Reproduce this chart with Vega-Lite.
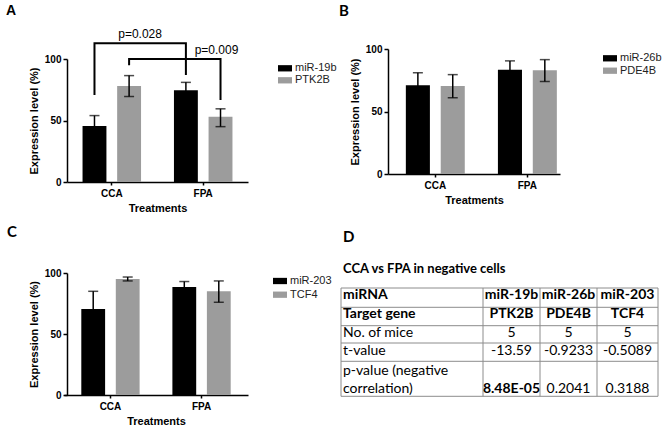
{
  "$schema": "https://vega.github.io/schema/vega-lite/v6.json",
  "autosize": {"type": "none"},
  "padding": {"left": 67, "top": 59, "right": 604, "bottom": 371},
  "background": "white",
  "config": {
    "view": {"stroke": null},
    "font": "Liberation Sans",
    "axis": {"labelFont": "Liberation Sans", "labelFontSize": 10, "labelFontWeight": "bold", "labelColor": "#000", "titleFont": "Liberation Sans", "titleFontSize": 11, "titleFontWeight": "bold", "titleColor": "#000", "domainColor": "#000", "domainWidth": 1.5, "tickColor": "#000", "tickWidth": 1.5, "grid": false},
    "axisX": {"labelAngle": 0, "tickSize": 3, "labelPadding": 3, "titlePadding": 4},
    "axisY": {"tickSize": 4, "labelPadding": 2, "titlePadding": 5},
    "legend": {"title": null, "orient": "none", "symbolType": "M-1,-0.45H1V0.45H-1Z", "symbolSize": 196, "symbolStrokeWidth": 0, "symbolOpacity": 1, "labelFont": "Liberation Sans", "labelFontSize": 11, "labelColor": "#222", "labelOffset": 3},
    "title": {"anchor": "start", "frame": "group", "color": "#000", "fontWeight": "bold"}
  },
  "datasets": {
    "barsA": [
      {"trt": "CCA", "gene": "miR-19b", "v": 45.5, "lo": 37, "hi": 54},
      {"trt": "CCA", "gene": "PTK2B", "v": 78, "lo": 69.5, "hi": 86.5},
      {"trt": "FPA", "gene": "miR-19b", "v": 74.5, "lo": 68, "hi": 81},
      {"trt": "FPA", "gene": "PTK2B", "v": 53, "lo": 45, "hi": 59.5}
    ],
    "barsB": [
      {"trt": "CCA", "gene": "miR-26b", "v": 71, "lo": 61, "hi": 81},
      {"trt": "CCA", "gene": "PDE4B", "v": 70.5, "lo": 61, "hi": 79.5},
      {"trt": "FPA", "gene": "miR-26b", "v": 83.5, "lo": 76.5, "hi": 90.5},
      {"trt": "FPA", "gene": "PDE4B", "v": 83, "lo": 74, "hi": 91.5}
    ],
    "barsC": [
      {"trt": "CCA", "gene": "miR-203", "v": 70.5, "lo": 56.5, "hi": 85},
      {"trt": "CCA", "gene": "TCF4", "v": 95, "lo": 93.5, "hi": 96.7},
      {"trt": "FPA", "gene": "miR-203", "v": 88.5, "lo": 84, "hi": 93},
      {"trt": "FPA", "gene": "TCF4", "v": 85, "lo": 76, "hi": 93.5}
    ],
    "bracketsA": [
      {"b": 1, "o": 1, "trt": "CCA", "gene": "miR-19b", "y": 70.7},
      {"b": 1, "o": 2, "trt": "CCA", "gene": "miR-19b", "y": 112.8},
      {"b": 1, "o": 3, "trt": "FPA", "gene": "miR-19b", "y": 112.8},
      {"b": 1, "o": 4, "trt": "FPA", "gene": "miR-19b", "y": 87},
      {"b": 2, "o": 1, "trt": "CCA", "gene": "PTK2B", "y": 95},
      {"b": 2, "o": 2, "trt": "CCA", "gene": "PTK2B", "y": 100},
      {"b": 2, "o": 3, "trt": "FPA", "gene": "PTK2B", "y": 100},
      {"b": 2, "o": 4, "trt": "FPA", "gene": "PTK2B", "y": 66.7}
    ],
    "table": [
      {"r": 0, "c": 0, "t": "miRNA"}, {"r": 0, "c": 1, "t": "miR-19b"}, {"r": 0, "c": 2, "t": "miR-26b"}, {"r": 0, "c": 3, "t": "miR-203"},
      {"r": 1, "c": 0, "t": "Target gene"}, {"r": 1, "c": 1, "t": "PTK2B"}, {"r": 1, "c": 2, "t": "PDE4B"}, {"r": 1, "c": 3, "t": "TCF4"},
      {"r": 2, "c": 0, "t": "No. of mice"}, {"r": 2, "c": 1, "t": "5"}, {"r": 2, "c": 2, "t": "5"}, {"r": 2, "c": 3, "t": "5"},
      {"r": 3, "c": 0, "t": "t-value"}, {"r": 3, "c": 1, "t": "-13.59"}, {"r": 3, "c": 2, "t": "-0.9233"}, {"r": 3, "c": 3, "t": "-0.5089"},
      {"r": 4, "c": 0, "t": "p-value (negative"},
      {"r": 5, "c": 0, "t": "correlation)"}, {"r": 5, "c": 1, "t": "8.48E-05"}, {"r": 5, "c": 2, "t": "0.2041"}, {"r": 5, "c": 3, "t": "0.3188"}
    ],
    "colLines": [{"k": -0.5}, {"k": 0.5}, {"k": 1.5}, {"k": 2.5}, {"k": 3.5}],
    "rowLines": [{"k": -0.5}, {"k": 0.5}, {"k": 1.5}, {"k": 2.5}, {"k": 3.5}, {"k": 5.5}]
  },
  "columns": 2,
  "spacing": {"row": 91, "column": 140},
  "bounds": "flush",
  "align": "each",
  "resolve": {"scale": {"color": "independent", "xOffset": "independent", "x": "independent", "y": "independent"}},
  "concat": [
    {
      "width": 181, "height": 123,
      "title": {"text": "A", "dx": -61, "offset": 10, "font": "Liberation Sans", "fontSize": 14},
      "encoding": {
        "x": {"field": "trt", "type": "nominal", "title": "Treatments", "scale": {"paddingInner": 0.36, "paddingOuter": 0.17}},
        "xOffset": {"field": "gene", "type": "nominal", "sort": ["miR-19b", "PTK2B"], "scale": {"paddingInner": 0.31, "paddingOuter": 0}}
      },
      "layer": [
        {"data": {"name": "barsA"}, "mark": {"type": "bar"},
         "encoding": {
           "y": {"field": "v", "type": "quantitative", "title": "Expression level (%)", "scale": {"domain": [0, 100], "nice": false}, "axis": {"values": [0, 50, 100]}},
           "color": {"field": "gene", "type": "nominal", "sort": ["miR-19b", "PTK2B"], "scale": {"range": ["#000000", "#9c9c9c"]}, "legend": {"legendX": 211, "legendY": 2.3, "rowPadding": -1.3}}
         }},
        {"data": {"name": "barsA"}, "mark": {"type": "rule", "color": "#000", "strokeWidth": 1.5},
         "encoding": {"y": {"field": "lo", "type": "quantitative", "title": "Expression level (%)"}, "y2": {"field": "hi"}}},
        {"data": {"name": "barsA"}, "mark": {"type": "tick", "color": "#000", "thickness": 1.5, "size": 10},
         "encoding": {"y": {"field": "hi", "type": "quantitative", "title": "Expression level (%)"}}},
        {"data": {"name": "barsA"}, "mark": {"type": "tick", "color": "#000", "thickness": 1.5, "size": 10},
         "encoding": {"y": {"field": "lo", "type": "quantitative", "title": "Expression level (%)"}}},
        {"data": {"name": "bracketsA"}, "mark": {"type": "line", "color": "#000", "strokeWidth": 2},
         "encoding": {"y": {"field": "y", "type": "quantitative", "title": "Expression level (%)"}, "detail": {"field": "b"}, "order": {"field": "o"}}},
        {"data": {"values": [{"t": "p=0.028", "trt": "CCA", "gene": "PTK2B", "y": 112.8}]}, "mark": {"type": "text", "font": "Liberation Sans", "fontSize": 12, "color": "#000", "dx": 11, "dy": -5, "baseline": "alphabetic"},
         "encoding": {"y": {"field": "y", "type": "quantitative", "title": "Expression level (%)"}, "text": {"field": "t"}}},
        {"data": {"values": [{"t": "p=0.009", "trt": "FPA", "gene": "PTK2B", "y": 100}]}, "mark": {"type": "text", "font": "Liberation Sans", "fontSize": 12, "color": "#000", "dx": -4, "dy": -5, "baseline": "alphabetic"},
         "encoding": {"y": {"field": "y", "type": "quantitative", "title": "Expression level (%)"}, "text": {"field": "t"}}}
      ]
    },
    {
      "width": 172, "height": 115,
      "title": {"text": "B", "dx": -49, "offset": 25.5, "font": "Lato", "fontSize": 15},
      "data": {"name": "barsB"},
      "encoding": {
        "x": {"field": "trt", "type": "nominal", "title": "Treatments", "scale": {"paddingInner": 0.36, "paddingOuter": 0.114, "align": 0.85}},
        "xOffset": {"field": "gene", "type": "nominal", "sort": ["miR-26b", "PDE4B"], "scale": {"paddingInner": 0.31, "paddingOuter": 0}}
      },
      "layer": [
        {"mark": {"type": "bar"},
         "encoding": {
           "y": {"field": "v", "type": "quantitative", "title": "Expression level (%)", "scale": {"domain": [0, 100], "nice": false, "range": [115, -10]}, "axis": {"values": [0, 50, 100]}},
           "color": {"field": "gene", "type": "nominal", "sort": ["miR-26b", "PDE4B"], "scale": {"range": ["#000000", "#9c9c9c"]}, "legend": {"legendX": 215, "legendY": -7.7, "rowPadding": 0.4}}
         }},
        {"mark": {"type": "rule", "color": "#000", "strokeWidth": 1.5},
         "encoding": {"y": {"field": "lo", "type": "quantitative", "title": "Expression level (%)"}, "y2": {"field": "hi"}}},
        {"mark": {"type": "tick", "color": "#000", "thickness": 1.5, "size": 10},
         "encoding": {"y": {"field": "hi", "type": "quantitative", "title": "Expression level (%)"}}},
        {"mark": {"type": "tick", "color": "#000", "thickness": 1.5, "size": 10},
         "encoding": {"y": {"field": "lo", "type": "quantitative", "title": "Expression level (%)"}}}
      ]
    },
    {
      "width": 181, "height": 122,
      "title": {"text": "C", "dx": -60, "offset": 28, "font": "Lato", "fontSize": 15},
      "data": {"name": "barsC"},
      "encoding": {
        "x": {"field": "trt", "type": "nominal", "title": "Treatments", "scale": {"paddingInner": 0.36, "paddingOuter": 0.19, "range": [-3, 181]}},
        "xOffset": {"field": "gene", "type": "nominal", "sort": ["miR-203", "TCF4"], "scale": {"paddingInner": 0.31, "paddingOuter": 0}}
      },
      "layer": [
        {"mark": {"type": "bar"},
         "encoding": {
           "y": {"field": "v", "type": "quantitative", "title": "Expression level (%)", "scale": {"domain": [0, 100], "nice": false}, "axis": {"values": [0, 50, 100]}},
           "color": {"field": "gene", "type": "nominal", "sort": ["miR-203", "TCF4"], "scale": {"range": ["#000000", "#9c9c9c"]}, "legend": {"legendX": 206, "legendY": 1, "rowPadding": 1.7}}
         }},
        {"mark": {"type": "rule", "color": "#000", "strokeWidth": 1.5},
         "encoding": {"y": {"field": "lo", "type": "quantitative", "title": "Expression level (%)"}, "y2": {"field": "hi"}}},
        {"mark": {"type": "tick", "color": "#000", "thickness": 1.5, "size": 10},
         "encoding": {"y": {"field": "hi", "type": "quantitative", "title": "Expression level (%)"}}},
        {"mark": {"type": "tick", "color": "#000", "thickness": 1.5, "size": 10},
         "encoding": {"y": {"field": "lo", "type": "quantitative", "title": "Expression level (%)"}}}
      ]
    },
    {
      "width": 270, "height": 123,
      "title": {"text": "D", "subtitle": "CCA vs FPA in negative cells", "dx": -45, "offset": -3, "font": "Lato", "fontSize": 15, "subtitleFont": "Lato", "subtitleFontSize": 13, "subtitleFontWeight": "bold", "subtitleColor": "#000", "subtitlePadding": 18},
      "resolve": {"axis": {"x": "independent", "y": "independent"}},
      "layer": [
        {"data": {"name": "colLines"}, "mark": {"type": "rule", "color": "#8c8c8c", "strokeWidth": 1},
         "encoding": {
           "x": {"field": "k", "type": "quantitative", "axis": null,
                 "scale": {"domain": [-0.5, 0, 0.5, 1, 1.5, 2, 2.5, 3, 3.5], "range": [-47, -45, 95, 123.5, 152, 180.5, 209, 239.5, 270], "zero": false, "nice": false}},
           "y": {"datum": -0.5, "type": "quantitative", "axis": null,
                 "scale": {"domain": [-0.5, 0, 0.5, 1, 1.5, 2, 2.5, 3, 3.5, 4, 5, 5.5], "range": [15, 22, 34.3, 41.3, 52.7, 60, 70, 78.3, 88.3, 97.8, 115.8, 123.3], "zero": false, "nice": false}},
           "y2": {"datum": 5.5}
         }},
        {"data": {"name": "rowLines"}, "mark": {"type": "rule", "color": "#8c8c8c", "strokeWidth": 1},
         "encoding": {
           "y": {"field": "k", "type": "quantitative", "axis": null},
           "x": {"datum": -0.5, "type": "quantitative", "axis": null},
           "x2": {"datum": 3.5}
         }},
        {"data": {"name": "table"}, "transform": [{"filter": "datum.c === 0 && datum.r <= 1"}],
         "mark": {"type": "text", "align": "left", "baseline": "middle", "font": "Lato", "fontSize": 14, "fontWeight": "bold", "color": "#000"},
         "encoding": {"x": {"field": "c", "type": "quantitative", "axis": null}, "y": {"field": "r", "type": "quantitative", "axis": null}, "text": {"field": "t", "type": "nominal"}}},
        {"data": {"name": "table"}, "transform": [{"filter": "datum.c === 0 && datum.r > 1"}],
         "mark": {"type": "text", "align": "left", "baseline": "middle", "font": "Lato", "fontSize": 14, "color": "#000"},
         "encoding": {"x": {"field": "c", "type": "quantitative", "axis": null}, "y": {"field": "r", "type": "quantitative", "axis": null}, "text": {"field": "t", "type": "nominal"}}},
        {"data": {"name": "table"}, "transform": [{"filter": "datum.c > 0 && (datum.r <= 1 || (datum.r === 5 && datum.c === 1))"}],
         "mark": {"type": "text", "align": "center", "baseline": "middle", "font": "Lato", "fontSize": 14, "fontWeight": "bold", "color": "#000"},
         "encoding": {"x": {"field": "c", "type": "quantitative", "axis": null}, "y": {"field": "r", "type": "quantitative", "axis": null}, "text": {"field": "t", "type": "nominal"}}},
        {"data": {"name": "table"}, "transform": [{"filter": "datum.c > 0 && !(datum.r <= 1 || (datum.r === 5 && datum.c === 1))"}],
         "mark": {"type": "text", "align": "center", "baseline": "middle", "font": "Lato", "fontSize": 14, "color": "#000"},
         "encoding": {"x": {"field": "c", "type": "quantitative", "axis": null}, "y": {"field": "r", "type": "quantitative", "axis": null}, "text": {"field": "t", "type": "nominal"}}}
      ]
    }
  ]
}
